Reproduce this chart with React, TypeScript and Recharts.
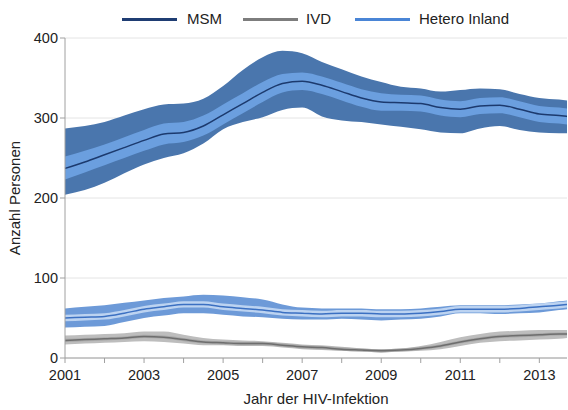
import React from "react";
import {
  ComposedChart,
  Area,
  Line,
  XAxis,
  YAxis,
  CartesianGrid,
} from "recharts";

// Jahre (Halbjahres-Schritte)
const years = [
  2001, 2001.5, 2002, 2002.5, 2003, 2003.5, 2004, 2004.5, 2005, 2005.5, 2006,
  2006.5, 2007, 2007.5, 2008, 2008.5, 2009, 2009.5, 2010, 2010.5, 2011, 2011.5,
  2012, 2012.5, 2013, 2013.5, 2013.7,
];

// MSM
const msmMid = [237, 245, 254, 263, 272, 280, 282, 290, 304, 318, 332, 343, 346, 341, 333, 325, 320, 319, 318, 313, 311, 315, 316, 311, 305, 303, 302];
const msmHigh = [287, 290, 295, 303, 311, 317, 318, 324, 340, 360, 376, 384, 381, 370, 361, 352, 345, 339, 337, 333, 335, 337, 336, 330, 325, 323, 322];
const msmLow = [204, 210, 219, 231, 242, 250, 256, 268, 286, 295, 301, 310, 313, 302, 297, 295, 292, 289, 286, 282, 281, 287, 290, 285, 282, 281, 281];
const msmInnerHigh = [252, 259, 267, 276, 285, 293, 295, 303, 317, 331, 345, 355, 357, 352, 344, 336, 331, 329, 328, 323, 321, 325, 326, 321, 315, 313, 312];
const msmInnerLow = [223, 232, 241, 250, 259, 267, 270, 278, 292, 306, 320, 332, 335, 330, 322, 314, 309, 309, 308, 303, 301, 305, 306, 301, 295, 293, 292];

// Hetero Inland
const hetMid = [50, 51, 52, 56, 61, 64, 67, 67, 64, 62, 60, 57, 56, 55, 56, 56, 55, 55, 56, 58, 61, 61, 61, 62, 64, 66, 67];
const hetHigh = [62, 64, 66, 69, 72, 75, 77, 79, 78, 76, 73, 67, 63, 62, 62, 62, 61, 61, 62, 64, 66, 66, 66, 67, 68, 71, 72];
const hetLow = [38, 39, 40, 45, 50, 53, 56, 56, 54, 52, 51, 49, 48, 48, 49, 48, 47, 48, 49, 52, 56, 56, 55, 56, 57, 60, 61];
const hetInnerHigh = [54, 55, 56, 60, 65, 68, 71, 71, 68, 66, 64, 61, 60, 59, 60, 60, 59, 59, 60, 62, 65, 65, 65, 66, 68, 70, 71];
const hetInnerLow = [46, 47, 48, 52, 57, 60, 63, 63, 60, 58, 56, 53, 52, 51, 52, 52, 51, 51, 52, 54, 57, 57, 57, 58, 60, 62, 63];

// IVD
const ivdMid = [22, 23, 24, 25, 27, 26, 23, 20, 19, 18, 18, 16, 14, 13, 11, 10, 9, 10, 12, 15, 20, 24, 27, 28, 29, 30, 30];
const ivdHigh = [28, 29, 30, 31, 33, 33, 29, 25, 23, 22, 21, 19, 17, 16, 14, 12, 11, 12, 15, 20, 26, 30, 33, 34, 35, 35, 35];
const ivdLow = [17, 18, 19, 20, 21, 20, 18, 16, 16, 15, 15, 13, 11, 10, 9, 8, 7, 8, 9, 11, 15, 19, 21, 22, 23, 24, 25];
const ivdInnerHigh = [24, 25, 26, 27, 29, 28, 25, 22, 21, 20, 20, 18, 16, 15, 13, 12, 11, 12, 14, 17, 22, 26, 29, 30, 31, 32, 32];
const ivdInnerLow = [20, 21, 22, 23, 25, 24, 21, 18, 17, 16, 16, 14, 12, 11, 9, 8, 7, 8, 10, 13, 18, 22, 25, 26, 27, 28, 28];

const xTicks = [2001, 2002, 2003, 2004, 2005, 2006, 2007, 2008, 2009, 2010, 2011, 2012, 2013];
const yTicks = [0, 100, 200, 300, 400];

const data = years.map((year, i) => ({
  year,
  msmOuter: [msmLow[i], msmHigh[i]],
  msmInner: [msmInnerLow[i], msmInnerHigh[i]],
  msm: msmMid[i],
  hetOuter: [hetLow[i], hetHigh[i]],
  hetInner: [hetInnerLow[i], hetInnerHigh[i]],
  het: hetMid[i],
  ivdOuter: [ivdLow[i], ivdHigh[i]],
  ivdInner: [ivdInnerLow[i], ivdInnerHigh[i]],
  ivd: ivdMid[i],
}));

const FONT = "'Liberation Sans', Arial, sans-serif";
const AXIS = "#a0a0a0";

const legendItems = [
  { label: "MSM", color: "#1f3d73", left: 122, textLeft: 187 },
  { label: "IVD", color: "#7d7d7d", left: 243, textLeft: 306 },
  { label: "Hetero Inland", color: "#4a85d6", left: 355, textLeft: 419 },
];

export default function App() {
  return (
    <div style={{ position: "absolute", left: 0, top: 0, width: 568, height: 410, fontFamily: FONT }}>
      {legendItems.map((it) => (
        <React.Fragment key={it.label}>
          <div
            style={{
              position: "absolute",
              left: it.left,
              top: 18,
              width: 55,
              height: 3,
              background: it.color,
            }}
          />
          <div
            style={{
              position: "absolute",
              left: it.textLeft,
              top: 10,
              fontSize: 15,
              lineHeight: "18px",
              color: "#222",
            }}
          >
            {it.label}
          </div>
        </React.Fragment>
      ))}
      <ComposedChart
        width={568}
        height={410}
        data={data}
        margin={{ top: 38, right: 1, bottom: 2, left: 5 }}
      >
        <CartesianGrid vertical={false} stroke="#e4e4e4" />
        <XAxis
          dataKey="year"
          type="number"
          domain={[2001, 2013.7]}
          ticks={xTicks}
          interval={0}
          tickFormatter={(v) => (v % 2 === 1 ? String(v) : "")}
          tick={{ fontSize: 14.5, fill: "#222", fontFamily: FONT }}
          tickMargin={7}
          stroke={AXIS}
          tickSize={5}
          height={50}
          label={{
            value: "Jahr der HIV-Infektion",
            position: "insideBottom",
            offset: 4,
            fontSize: 15,
            fill: "#222",
            fontFamily: FONT,
          }}
        />
        <YAxis
          type="number"
          domain={[0, 400]}
          ticks={yTicks}
          tick={{ fontSize: 14.5, fill: "#222", fontFamily: FONT }}
          stroke={AXIS}
          tickSize={5}
          width={60}
          label={{
            value: "Anzahl Personen",
            angle: -90,
            position: "insideLeft",
            offset: 10,
            fontSize: 15,
            fill: "#222",
            fontFamily: FONT,
            style: { textAnchor: "middle" },
          }}
        />
        <Area dataKey="msmOuter" type="monotone" fill="#4a76ad" fillOpacity={1} stroke="none" isAnimationActive={false} />
        <Area dataKey="msmInner" type="monotone" fill="#6b9fdf" fillOpacity={1} stroke="none" isAnimationActive={false} />
        <Line dataKey="msm" type="monotone" stroke="#1c3a6e" strokeWidth={1.5} dot={false} isAnimationActive={false} />
        <Area dataKey="hetOuter" type="monotone" fill="#6d9ad8" fillOpacity={1} stroke="none" isAnimationActive={false} />
        <Area dataKey="hetInner" type="monotone" fill="#bcd3f1" fillOpacity={1} stroke="none" isAnimationActive={false} />
        <Line dataKey="het" type="monotone" stroke="#3b70c2" strokeWidth={1.5} dot={false} isAnimationActive={false} />
        <Area dataKey="ivdOuter" type="monotone" fill="#bdbdbd" fillOpacity={1} stroke="none" isAnimationActive={false} />
        <Area dataKey="ivdInner" type="monotone" fill="#a9a9a9" fillOpacity={1} stroke="none" isAnimationActive={false} />
        <Line dataKey="ivd" type="monotone" stroke="#6e6e6e" strokeWidth={1.5} dot={false} isAnimationActive={false} />
      </ComposedChart>
    </div>
  );
}
